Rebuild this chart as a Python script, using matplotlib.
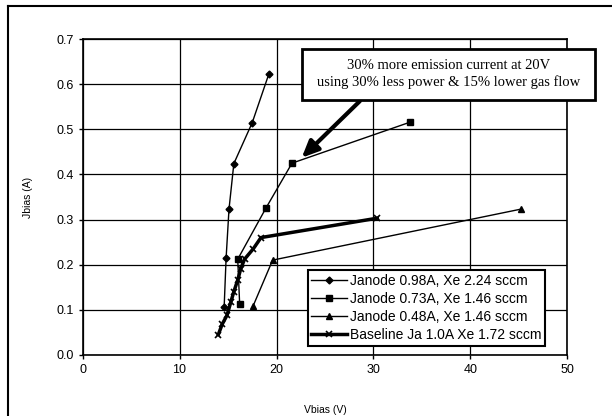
import matplotlib.pyplot as plt
from matplotlib.lines import Line2D
from matplotlib.patches import Rectangle

plt.rcParams['font.family'] = ['Liberation Sans', 'DejaVu Sans']

# Janode 0.98A, Xe 2.24 sccm
x1 = [14.6, 14.8, 15.1, 15.6, 17.5, 19.2]
y1 = [0.106, 0.214, 0.323, 0.424, 0.515, 0.622]
# Janode 0.73A, Xe 1.46 sccm
x2 = [16.2, 16.0, 18.9, 21.6, 33.8]
y2 = [0.112, 0.212, 0.325, 0.425, 0.516]
# Janode 0.48A, Xe 1.46 sccm
x3 = [17.6, 19.6, 45.2]
y3 = [0.109, 0.210, 0.323]
# Baseline Ja 1.0A Xe 1.72 sccm
x4 = [14.0, 14.4, 14.9, 15.3, 15.6, 16.0, 16.3, 16.7, 17.6, 18.4, 30.4]
y4 = [0.045, 0.068, 0.088, 0.118, 0.140, 0.166, 0.190, 0.212, 0.235, 0.260, 0.303]

labels = ["Janode 0.98A, Xe 2.24 sccm", "Janode 0.73A, Xe 1.46 sccm",
          "Janode 0.48A, Xe 1.46 sccm", "Baseline Ja 1.0A Xe 1.72 sccm"]

fig = plt.figure(figsize=(6.12, 4.16), dpi=100)
ax = fig.add_axes([0.135, 0.147, 0.792, 0.759])

ax.plot(x1, y1, color='black', lw=1.0, marker='D', ms=3.5, label=labels[0], zorder=3)
ax.plot(x2, y2, color='black', lw=1.0, marker='s', ms=5, label=labels[1], zorder=3)
ax.plot(x3, y3, color='black', lw=1.0, marker='^', ms=5, label=labels[2], zorder=3)
ax.plot(x4, y4, color='black', lw=2.5, marker='x', ms=5, mew=1.2, label=labels[3], zorder=3)

ax.set_xlim(0, 50)
ax.set_ylim(0, 0.7)
ax.set_xticks(range(0, 51, 10))
ax.set_yticks([i / 10 for i in range(8)])
ax.set_yticklabels([f"{i / 10:.1f}" for i in range(8)])
ax.grid(True, color='black', lw=0.9)
ax.tick_params(labelsize=9, length=3, width=1, colors='black')
for s in ax.spines.values():
    s.set_color('black')
    s.set_linewidth(1.2)

ax.set_xlabel('Vbias (V)', fontsize=7.5, labelpad=21)
ax.set_ylabel('Jbias (A)', fontsize=7.5, labelpad=17)

leg = ax.legend(loc='lower right', bbox_to_anchor=(0.96, 0.02), fontsize=10,
                frameon=True, fancybox=False, edgecolor='black', framealpha=1,
                handlelength=2.6, handletextpad=0.2, borderpad=0.25,
                labelspacing=0.3, borderaxespad=0.2)
leg.get_frame().set_linewidth(1.5)

# callout box with arrow
fig.add_artist(Rectangle((0.4935, 0.7596), 0.4787, 0.1226, transform=fig.transFigure,
                         fc='white', ec='black', lw=2, zorder=5))
fig.text(0.733, 0.821,
         "30% more emission current at 20V\nusing 30% less power & 15% lower gas flow",
         ha='center', va='center', fontsize=10.5, family='Liberation Serif',
         linespacing=1.3, zorder=6)
ax.annotate('', xy=(22.6, 0.437), xytext=(0.588, 0.757), textcoords='figure fraction',
            arrowprops=dict(arrowstyle='-|>,head_length=1.0,head_width=0.45',
                            color='black', lw=3, shrinkA=0, shrinkB=0),
            zorder=5)

# scanned page border (left and top)
fig.add_artist(Line2D([0.013, 0.013], [0.0, 0.985], color='black', lw=1.5))
fig.add_artist(Line2D([0.013, 1.0], [0.985, 0.985], color='black', lw=1.5))

fig.savefig('out.png', dpi=100)
